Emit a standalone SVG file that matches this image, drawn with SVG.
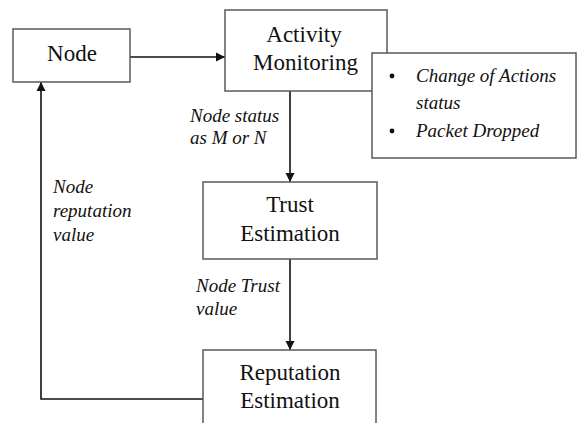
<svg xmlns="http://www.w3.org/2000/svg" width="577" height="423" viewBox="0 0 577 423">
<style>
.box{fill:#fff;stroke:#5a5a5a;stroke-width:1.5}
.t{font-family:'Liberation Serif',serif;font-size:23px;fill:#111;text-anchor:middle}
.i{font-family:'Liberation Serif',serif;font-size:19px;font-style:italic;fill:#111}
.c{fill:none;stroke:#111;stroke-width:1.6}
</style>
<defs>
<marker id="ah" viewBox="0 0 10 10" refX="10" refY="5" markerWidth="9" markerHeight="10" markerUnits="userSpaceOnUse" orient="auto">
<path d="M0,0 L10,5 L0,10 Z" fill="#111"/>
</marker>
</defs>
<rect width="577" height="423" fill="#fff"/>
<g id="connectors">
<path class="c" d="M130,57 H225" marker-end="url(#ah)"/>
<path class="c" d="M290,91 V182" marker-end="url(#ah)"/>
<path class="c" d="M290,259 V350" marker-end="url(#ah)"/>
<path class="c" d="M203,399 H41 V82" marker-end="url(#ah)"/>
</g>
<g id="node">
<rect class="box" x="13" y="29" width="117" height="53"/>
<text class="t" x="72" y="61">Node</text>
</g>
<g id="activity">
<rect class="box" x="225" y="10" width="162" height="81"/>
<text class="t" x="304" y="42">Activity</text>
<text class="t" x="305.5" y="70">Monitoring</text>
</g>
<g id="bullets">
<rect class="box" x="372" y="53" width="204" height="105"/>
<circle cx="392" cy="76" r="2.4" fill="#111"/>
<circle cx="392" cy="131" r="2.4" fill="#111"/>
<text class="i" x="416" y="82">Change of Actions</text>
<text class="i" x="416" y="109">status</text>
<text class="i" x="416" y="137">Packet Dropped</text>
</g>
<g id="trust">
<rect class="box" x="203" y="182" width="174" height="77"/>
<text class="t" x="290" y="212">Trust</text>
<text class="t" x="290" y="241">Estimation</text>
</g>
<g id="reputation">
<rect class="box" x="203" y="350" width="173" height="90"/>
<text class="t" x="290" y="380">Reputation</text>
<text class="t" x="290" y="408">Estimation</text>
</g>
<g id="labels">
<text class="i" x="190" y="122">Node status</text>
<text class="i" x="190" y="144">as M or N</text>
<text class="i" x="53" y="193">Node</text>
<text class="i" x="53" y="217">reputation</text>
<text class="i" x="53" y="241">value</text>
<text class="i" x="196" y="292">Node Trust</text>
<text class="i" x="196" y="315">value</text>
</g>
</svg>
